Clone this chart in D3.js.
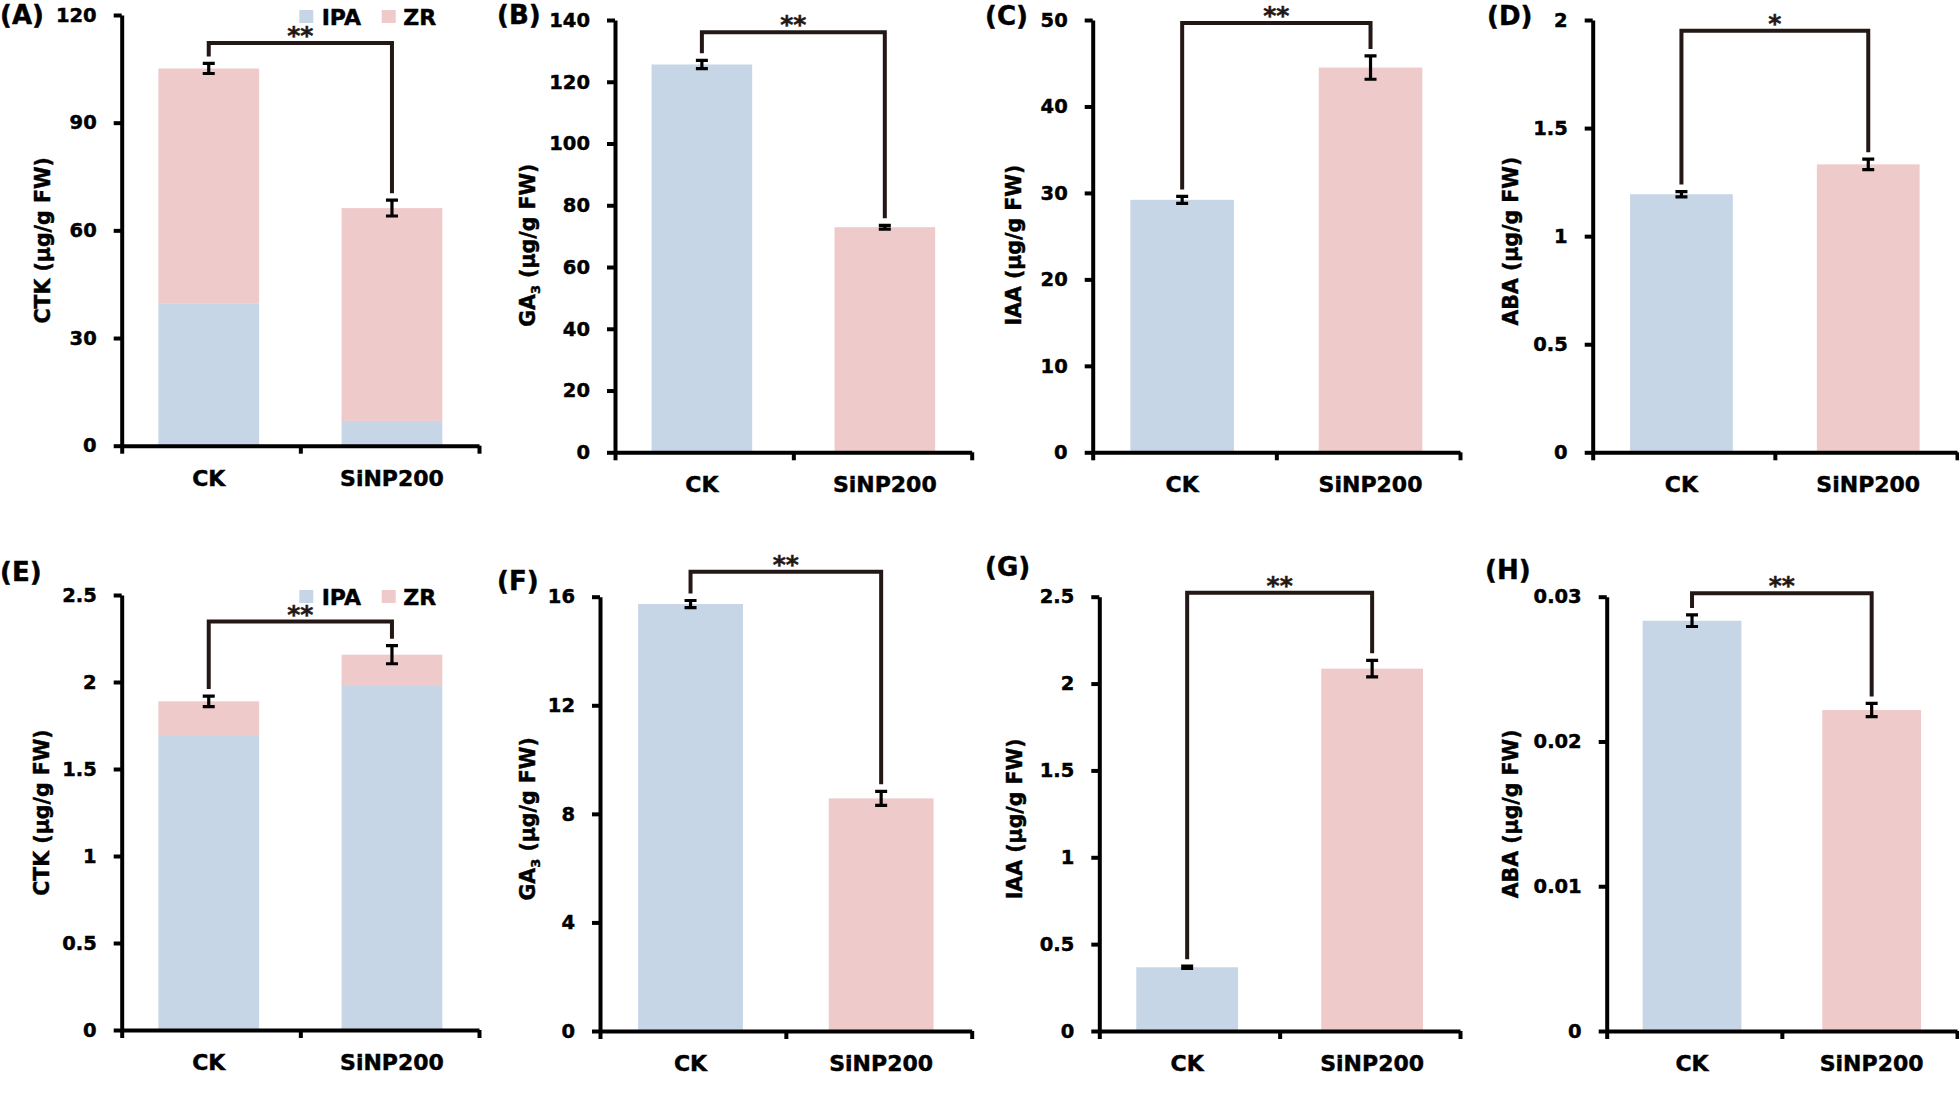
<!DOCTYPE html>
<html>
<head>
<meta charset="utf-8">
<script src="https://cdn.jsdelivr.net/npm/d3@7"></script>
<style>
  body { margin: 0; background: #fff; }
  text { font-family: "DejaVu Sans", sans-serif; font-weight: bold; fill: #000; stroke: #000; stroke-width: 0.45px; }
</style>
</head>
<body>
<svg id="main" width="1959" height="1106"></svg>
<script>
// categories
const groups = ["CK", "SiNP200"];
const parts = ["IPA", "ZR"];

// (A) CTK, stacked
const ctkA_IPA = [39.7, 6.9];
const ctkA_ZR = [65.4, 59.3];
const ctkA_err = [1.4, 2.2];
// (B) GA3
const ga3B = [125.6, 72.9];
const ga3B_err = [1.35, 0.6];
// (C) IAA
const iaaC = [29.2, 44.5];
const iaaC_err = [0.4, 1.35];
// (D) ABA
const abaD = [1.194, 1.332];
const abaD_err = [0.012, 0.024];
// (E) CTK, stacked
const ctkE_IPA = [1.695, 1.977];
const ctkE_ZR = [0.194, 0.18];
const ctkE_err = [0.03, 0.052];
// (F) GA3
const ga3F = [15.73, 8.57];
const ga3F_err = [0.13, 0.26];
// (G) IAA
const iaaG = [0.367, 2.086];
const iaaG_err = [0.006, 0.048];
// (H) ABA
const abaH = [0.02834, 0.02217];
const abaH_err = [0.0004, 0.00046];

// y axis max / tick step, significance bracket level and marks
const yMax  = [120, 140, 50, 2, 2.5, 16, 2.5, 0.03];
const yStep = [30, 20, 10, 0.5, 0.5, 4, 0.5, 0.01];
const sigLevel = [112.2, 136, 49.65, 1.95, 2.347, 16.92, 2.523, 0.03023];
const sigMark = ["**", "**", "**", "*", "**", "**", "**", "**"];
const panelNames = ["(A)", "(B)", "(C)", "(D)", "(E)", "(F)", "(G)", "(H)"];
const yTitles = ["CTK", "GA", "IAA", "ABA", "CTK", "GA", "IAA", "ABA"];

const panels = [
  {stack: [ctkA_IPA, ctkA_ZR], err: ctkA_err},
  {vals: ga3B, err: ga3B_err, sub: "3"},
  {vals: iaaC, err: iaaC_err},
  {vals: abaD, err: abaD_err},
  {stack: [ctkE_IPA, ctkE_ZR], err: ctkE_err},
  {vals: ga3F, err: ga3F_err, sub: "3"},
  {vals: iaaG, err: iaaG_err},
  {vals: abaH, err: abaH_err}
];

// layout of each panel (plot box, title offset, panel label)
const boxes = [
  {x0: 121.7, x1: 479, y0: 15, y1: 445.7, tx: -79, ty: 10, lx: 0, ly: 24},
  {x0: 615, x1: 971.7, y0: 20, y1: 452.3, tx: -87, ty: 9, lx: 497, ly: 24},
  {x0: 1092.7, x1: 1460, y0: 20, y1: 452.3, tx: -79, ty: 9, lx: 985, ly: 25},
  {x0: 1592.7, x1: 1957, y0: 20, y1: 452.3, tx: -82, ty: 5, lx: 1487, ly: 25},
  {x0: 121.7, x1: 479, y0: 595, y1: 1030, tx: -80, ty: 0, lx: 0, ly: 581},
  {x0: 600, x1: 971.7, y0: 596.7, y1: 1031, tx: -72, ty: 5, lx: 497, ly: 590},
  {x0: 1099.3, x1: 1460, y0: 596.7, y1: 1031, tx: -84, ty: 5, lx: 985, ly: 576},
  {x0: 1606.7, x1: 1957, y0: 596.7, y1: 1031, tx: -96, ty: 0, lx: 1485, ly: 579}
];

const blue = "#c7d6e7", pink = "#eecbca";
const svg = d3.select("svg#main");
const fmt = d => String(+d.toFixed(4));

panels.forEach((p, i) => drawPanel(p, i, boxes[i]));

function drawPanel(p, i, b) {
  const g = svg.append("g");
  const y = d3.scaleLinear().domain([0, yMax[i]]).range([b.y1, b.y0]);
  const x = d3.scaleBand().domain(groups).range([b.x0, b.x1])
    .paddingInner(0.45).paddingOuter(0.2);

  let totals;
  if (p.stack) {
    const rows = groups.map((k, j) => ({group: k, IPA: p.stack[0][j], ZR: p.stack[1][j]}));
    const series = d3.stack().keys(parts)(rows);
    g.selectAll("g.layer").data(series).enter().append("g")
      .attr("fill", (d, j) => j === 0 ? blue : pink)
      .selectAll("rect").data(d => d).enter().append("rect")
      .attr("x", d => x(d.data.group))
      .attr("width", x.bandwidth())
      .attr("y", d => y(d[1]))
      .attr("height", d => y(d[0]) - y(d[1]));
    totals = rows.map(r => r.IPA + r.ZR);

    // legend
    const lg = g.append("g");
    [[blue, "IPA", 177.6, 200], [pink, "ZR", 260, 281.6]].forEach(l => {
      lg.append("rect").attr("x", b.x0 + l[2]).attr("y", b.y0 - 5)
        .attr("width", 14).attr("height", 13).attr("fill", l[0]);
      lg.append("text").attr("x", b.x0 + l[3]).attr("y", b.y0 + 9.5)
        .style("font-size", "22px").text(l[1]);
    });
  } else {
    g.selectAll("rect.bar").data(groups).enter().append("rect")
      .attr("x", d => x(d))
      .attr("width", x.bandwidth())
      .attr("y", (d, j) => y(p.vals[j]))
      .attr("height", (d, j) => y(0) - y(p.vals[j]))
      .attr("fill", (d, j) => j === 0 ? blue : pink);
    totals = p.vals;
  }

  // error bars
  const cx = d => x(d) + x.bandwidth() / 2;
  groups.forEach((k, j) => {
    const top = y(totals[j] + p.err[j]), bot = y(totals[j] - p.err[j]);
    g.append("path")
      .attr("d", `M${cx(k) - 6},${top}H${cx(k) + 6}M${cx(k)},${top}V${bot}M${cx(k) - 6},${bot}H${cx(k) + 6}`)
      .attr("stroke", "#000").attr("stroke-width", 3.2).attr("fill", "none");
  });

  // significance bracket
  const gap = 7;
  const lv = y(sigLevel[i]);
  g.append("path")
    .attr("d", `M${cx(groups[0])},${y(totals[0] + p.err[0]) - gap}V${lv}H${cx(groups[1])}V${y(totals[1] + p.err[1]) - gap}`)
    .attr("fill", "none").attr("stroke", "#231815").attr("stroke-width", 4)
    .attr("stroke-linejoin", "miter");
  g.append("text")
    .attr("x", (cx(groups[0]) + cx(groups[1])) / 2).attr("y", lv + 1)
    .attr("text-anchor", "middle").style("font-size", "25px")
    .style("fill", "#231815").style("stroke", "#231815")
    .text(sigMark[i]);

  // y axis
  const ya = g.append("g").attr("transform", `translate(${b.x0},0)`)
    .call(d3.axisLeft(y).tickValues(d3.range(0, yMax[i] + yStep[i] / 2, yStep[i]))
      .tickSize(8).tickSizeOuter(0).tickPadding(17).tickFormat(fmt));
  ya.selectAll("path,line").attr("stroke", "#000").attr("stroke-width", 4);
  ya.selectAll("text").style("font-size", "19.5px").attr("fill", "#000");

  // x axis (ticks at category boundaries)
  const xb = d3.scaleLinear().domain([0, 2]).range([b.x0, b.x1]);
  const xa = g.append("g").attr("transform", `translate(0,${b.y1})`)
    .call(d3.axisBottom(xb).tickValues([0, 1, 2]).tickSize(8).tickSizeOuter(0).tickFormat(""));
  xa.selectAll("path,line").attr("stroke", "#000").attr("stroke-width", 4);

  g.selectAll("text.cat").data(groups).enter().append("text")
    .attr("x", d => cx(d)).attr("y", b.y1 + 40)
    .attr("text-anchor", "middle").style("font-size", "22px")
    .text(d => d);

  // y title
  const t = g.append("text")
    .attr("transform", `translate(${b.x0 + b.tx},${(b.y0 + b.y1) / 2 + b.ty}) rotate(-90)`)
    .attr("text-anchor", "middle").attr("dominant-baseline", "central")
    .style("font-size", "20.5px");
  t.append("tspan").text(yTitles[i]);
  if (p.sub) t.append("tspan").attr("baseline-shift", "sub").style("font-size", "13px").text(p.sub);
  t.append("tspan").text(" (μg/g FW)");

  // panel label
  g.append("text").attr("x", b.lx).attr("y", b.ly).style("font-size", "26px").text(panelNames[i]);
}
</script>
</body>
</html>
